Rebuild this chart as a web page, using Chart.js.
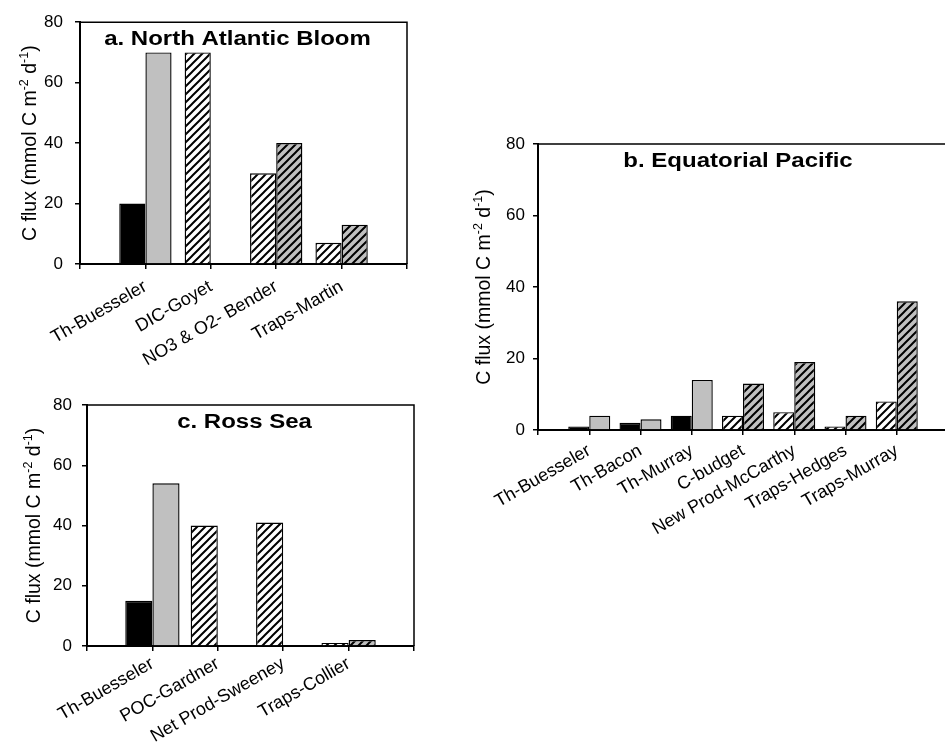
<!DOCTYPE html>
<html><head><meta charset="utf-8">
<script src="https://cdn.jsdelivr.net/npm/chart.js@4.4.1/dist/chart.umd.min.js"></script>
<style>
html,body{margin:0;padding:0;background:#fff;overflow:hidden;width:945px;height:750px;position:relative;}
canvas{position:absolute;}
</style></head><body>
<canvas id="ca" width="425" height="380" style="left:0px;top:0px"></canvas>
<canvas id="cb" width="530" height="420" style="left:440px;top:120px"></canvas>
<canvas id="cc" width="430" height="370" style="left:0px;top:380px"></canvas>
<script>
// ---------- data ----------
const yAxisTitleParts = [['C flux (mmol C m', false], ['-2', true], [' d', false], ['-1', true], [')', false]];

const naTitle = 'a. North Atlantic Bloom';
const naCategories = ['', 'Th-Buesseler', 'DIC-Goyet', 'NO3 & O2- Bender', 'Traps-Martin', ''];
const naSeries1 = [null, 20, 70, 30, 7, null];
const naSeries2 = [null, 70, null, 40, 13, null];

const epTitle = 'b. Equatorial Pacific';
const epCategories = ['', 'Th-Buesseler', 'Th-Bacon', 'Th-Murray', 'C-budget', 'New Prod-McCarthy', 'Traps-Hedges', 'Traps-Murray', ''];
const epSeries1 = [null, 1, 2, 4, 4, 5, 1, 8, null];
const epSeries2 = [null, 4, 3, 14, 13, 19, 4, 36, null];

const rsTitle = 'c. Ross Sea';
const rsCategories = ['', 'Th-Buesseler', 'POC-Gardner', 'Net Prod-Sweeney', 'Traps-Collier', ''];
const rsSeries1 = [null, 15, 40, 41, 1, null];
const rsSeries2 = [null, 54, null, null, 2, null];

const yTicks = [0, 20, 40, 60, 80];

// ---------- styling helpers ----------
const FONT = '"Liberation Sans", Arial, Helvetica, sans-serif';
const GRAY = '#c0c0c0';

function hatch(bg) {
  const s = 8;
  const c = document.createElement('canvas');
  c.width = s; c.height = s;
  const g = c.getContext('2d');
  g.fillStyle = bg; g.fillRect(0, 0, s, s);
  g.strokeStyle = '#000'; g.lineWidth = 2;
  g.beginPath();
  g.moveTo(0, s); g.lineTo(s, 0);
  g.moveTo(-1, 1); g.lineTo(1, -1);
  g.moveTo(s - 1, s + 1); g.lineTo(s + 1, s - 1);
  g.stroke();
  return document.createElement('canvas').getContext('2d').createPattern(c, 'repeat');
}
const hatchWhite = hatch('#fff');
const hatchGray = hatch(GRAY);

function colors(cats, solid, pat) {
  return cats.map(c => c.startsWith('Th-') ? solid : pat);
}

const panelPlugin = {
  id: 'panel',
  afterDraw(chart, args, opts) {
    const ctx = chart.ctx, a = chart.chartArea;
    ctx.save();
    ctx.strokeStyle = '#000'; ctx.lineWidth = 1.5;
    ctx.beginPath();
    ctx.moveTo(a.left, a.top); ctx.lineTo(a.right, a.top); ctx.lineTo(a.right, a.bottom);
    ctx.stroke();
    ctx.save();
    ctx.translate((a.left + a.right) / 2 + opts.titleDx, a.top + opts.titleDy);
    ctx.scale(1.2, 1);
    ctx.font = 'bold 20px ' + FONT;
    ctx.fillStyle = '#000'; ctx.textAlign = 'center'; ctx.textBaseline = 'alphabetic';
    ctx.fillText(opts.title, 0, 0);
    ctx.restore();
    const big = '19.5px ' + FONT, small = '12.5px ' + FONT;
    let total = 0;
    for (const [t, sup] of yAxisTitleParts) { ctx.font = sup ? small : big; total += ctx.measureText(t).width; }
    ctx.translate(a.left - opts.yTitleOff, (a.top + a.bottom) / 2);
    ctx.rotate(-Math.PI / 2);
    ctx.fillStyle = '#000'; ctx.textAlign = 'left'; ctx.textBaseline = 'alphabetic';
    let x = -total / 2;
    for (const [t, sup] of yAxisTitleParts) {
      ctx.font = sup ? small : big;
      ctx.fillText(t, x, sup ? -8 : 0);
      x += ctx.measureText(t).width;
    }
    ctx.restore();
  }
};

function makeChart(id, cats, s1, s2, cfg) {
  return new Chart(document.getElementById(id), {
    type: 'bar',
    data: {
      labels: cats,
      datasets: [
        { data: s1, backgroundColor: colors(cats, '#000', hatchWhite), borderColor: '#000', borderWidth: 1.4,
          categoryPercentage: cfg.cat, barPercentage: 1 },
        { data: s2, backgroundColor: colors(cats, GRAY, hatchGray), borderColor: '#000', borderWidth: 1.4,
          categoryPercentage: cfg.cat, barPercentage: 1 }
      ]
    },
    options: {
      responsive: false, animation: false, events: [],
      layout: { padding: { top: cfg.top, right: cfg.right, left: 0, bottom: 0 } },
      plugins: {
        legend: { display: false }, tooltip: { enabled: false },
        panel: { title: cfg.title, titleDx: cfg.titleDx, titleDy: 23, yTitleOff: cfg.yTitleOff }
      },
      scales: {
        x: {
          type: 'category', offset: false,
          grid: { offset: false, drawOnChartArea: false, drawTicks: true, tickLength: 5, color: '#000', lineWidth: 1.5 },
          border: { display: true, color: '#000', width: 2 },
          ticks: { autoSkip: false, minRotation: 30, maxRotation: 30, color: '#000', padding: cfg.xpad,
                   font: { family: FONT, size: 18 } },
          afterFit(s) { s.height = cfg.xh; }
        },
        y: {
          min: 0, max: 80,
          afterBuildTicks(s) { s.ticks = yTicks.map(v => ({ value: v })); },
          grid: { drawOnChartArea: false, drawTicks: true, tickLength: 5, color: '#000', lineWidth: 1.5 },
          border: { display: true, color: '#000', width: 2 },
          ticks: { color: '#000', padding: cfg.ypad, font: { family: FONT, size: 17 } },
          afterFit(s) { s.width = cfg.yw; }
        }
      }
    },
    plugins: [panelPlugin]
  });
}

makeChart('ca', naCategories, naSeries1, naSeries2,
  { title: naTitle, cat: 0.8, top: 14, right: 18, yw: 80, xh: 116, ypad: 12, xpad: 7, titleDx: -6, yTitleOff: 44 });
makeChart('cb', epCategories, epSeries1, epSeries2,
  { title: epTitle, cat: 0.82, top: 24, right: 22, yw: 98, xh: 110, ypad: 8, xpad: 5, titleDx: -5, yTitleOff: 48 });
makeChart('cc', rsCategories, rsSeries1, rsSeries2,
  { title: rsTitle, cat: 0.83, top: 25, right: 16, yw: 87, xh: 104, ypad: 10, xpad: 2, titleDx: -6, yTitleOff: 47 });
</script>
</body></html>
